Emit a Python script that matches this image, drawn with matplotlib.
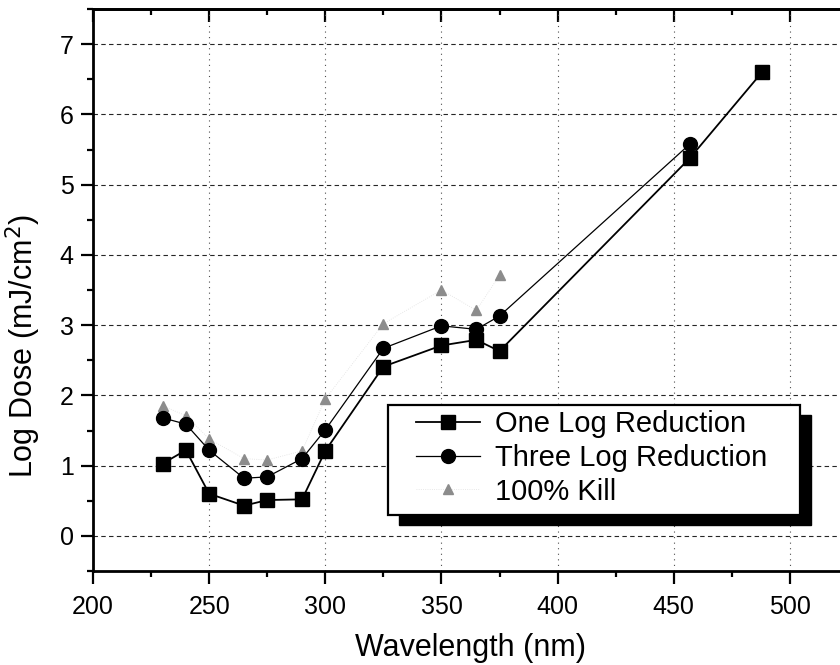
import matplotlib
matplotlib.use("Agg")
import matplotlib.pyplot as plt
from matplotlib.patches import Rectangle
from matplotlib.ticker import MultipleLocator

plt.rcParams['font.family'] = ['Liberation Sans', 'DejaVu Sans']

# Wavelengths (nm) and log doses (mJ/cm^2)
wavelength = [230, 240, 250, 265, 275, 290, 300, 325, 350, 365, 375, 457, 488]
one_log = [1.03, 1.22, 0.60, 0.43, 0.51, 0.52, 1.21, 2.41, 2.71, 2.79, 2.63, 5.38, 6.60]
wavelength_three = [230, 240, 250, 265, 275, 290, 300, 325, 350, 365, 375, 457]
three_log = [1.68, 1.59, 1.22, 0.82, 0.84, 1.10, 1.51, 2.67, 2.99, 2.94, 3.13, 5.58]
wavelength_kill = [230, 240, 250, 265, 275, 290, 300, 325, 350, 365, 375]
full_kill = [1.85, 1.71, 1.38, 1.10, 1.08, 1.21, 1.95, 3.02, 3.50, 3.21, 3.71]

labels = ["One Log Reduction", "Three Log Reduction", "100% Kill"]

W, H = 840, 665
fig = plt.figure(figsize=(W / 100, H / 100), dpi=100)
ax = fig.add_axes([93 / W, (H - 571) / H, 755 / W, 562 / H])

ax.set_xlim(200, 525)
ax.set_ylim(-0.5, 7.5)

# grid
for y in range(0, 8):
    ax.axhline(y, color='0.15', lw=0.8, dashes=(4, 3), zorder=1)
for x in range(250, 525, 50):
    ax.axvline(x, color='0.3', lw=0.8, dashes=(1, 4), zorder=1)

l1, = ax.plot(wavelength, one_log, '-s', color='black', lw=1.3, ms=10,
              zorder=3, label=labels[0])
l2, = ax.plot(wavelength_three, three_log, '-o', color='black', lw=0.9,
              ms=10, zorder=3, label=labels[1])
l3, = ax.plot(wavelength_kill, full_kill, linestyle=':', color='0.88', lw=0.6,
              marker='^', ms=7.5, mfc='0.55', mec='0.55', zorder=2,
              label=labels[2])

ax.xaxis.set_major_locator(MultipleLocator(50))
ax.xaxis.set_minor_locator(MultipleLocator(25))
ax.yaxis.set_major_locator(MultipleLocator(1))
ax.yaxis.set_minor_locator(MultipleLocator(0.5))

for s in ax.spines.values():
    s.set_linewidth(2)

ax.tick_params(which='both', direction='out', width=1.6, top=False, right=False)
ax.tick_params(which='major', length=9, labelsize=18)
ax.tick_params(which='minor', length=4.5)
ax.tick_params(axis='x', which='major', pad=8)
ax.tick_params(axis='y', which='major', pad=5)

# inward ticks on the top edge
sec_x = ax.secondary_xaxis('top')
sec_x.xaxis.set_major_locator(MultipleLocator(50))
sec_x.xaxis.set_minor_locator(MultipleLocator(25))
sec_x.tick_params(which='both', direction='in', width=1.6, labeltop=False)
sec_x.tick_params(which='major', length=9)
sec_x.tick_params(which='minor', length=4.5)
sec_x.spines['top'].set_linewidth(2)

ax.set_xlabel("Wavelength (nm)", fontsize=22)
ax.set_ylabel("Log Dose (mJ/cm$^2$)", fontsize=22)
ax.xaxis.set_label_coords(0.5, -0.11)
ax.yaxis.set_label_coords(-0.066, 0.40)

# legend box with a solid offset shadow
bx0, by0, bx1, by1 = 388, 405, 800, 515
shadow = Rectangle(((bx0 + 11) / W, (H - by1 - 10) / H), (bx1 - bx0) / W,
                   (by1 - by0) / H, transform=fig.transFigure,
                   facecolor='black', edgecolor='black', zorder=4,
                   clip_on=False)
box = Rectangle((bx0 / W, (H - by1) / H), (bx1 - bx0) / W, (by1 - by0) / H,
                transform=fig.transFigure, facecolor='white',
                edgecolor='black', lw=1.6, zorder=4.1, clip_on=False)
ax.add_patch(shadow)
ax.add_patch(box)

leg = ax.legend(handles=[l1, l2, l3], loc='upper left',
                bbox_to_anchor=((bx0 + 28) / W, (H - by0 - 5) / H),
                bbox_transform=fig.transFigure, frameon=False,
                fontsize=21, handlelength=2.2, handletextpad=0.5,
                labelspacing=0.2, borderpad=0, borderaxespad=0)
leg.set_zorder(5)

fig.savefig("out.png", dpi=100)
